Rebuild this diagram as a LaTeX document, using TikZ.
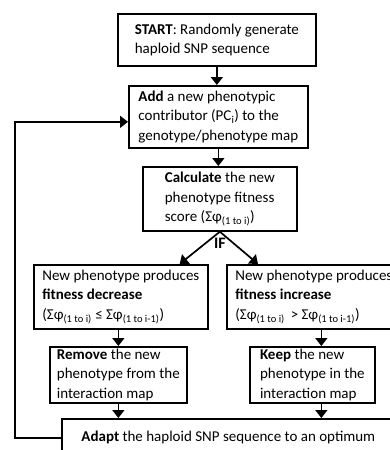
\documentclass[tikz,border=0pt]{standalone}
\usepackage{fontspec}
\setmainfont{Carlito}
\usetikzlibrary{positioning}
\usetikzlibrary{arrows.meta}

\begin{document}
\begin{tikzpicture}[x=1pt, y=-1pt, >={Triangle[width=12pt,length=8pt]},
  box/.style={draw, line width=1.7pt, anchor=north west, align=left, inner sep=2pt,
    font=\fontsize{15}{19.5}\selectfont},
  link/.style={->, line width=1.7pt}]

\useasboundingbox (0,0) rectangle (390,450);
\clip (0,0) rectangle (390,450);

\node [box, minimum width=198pt, minimum height=52pt] (start) at (117,13)
  {\textbf{START}: Randomly generate\\haploid SNP sequence};
\node [box, minimum width=179pt, minimum height=62pt] (add) at (128,85)
  {\textbf{Add} a new phenotypic\\contributor (PC\textsubscript{i}) to the\\genotype/phenotype map};
\node [box, minimum width=154pt, minimum height=64pt] (calc) at (142,166)
  {\textbf{Calculate} the new\\phenotype fitness\\score (Σφ\textsubscript{(1 to i)})};

\node [box, minimum width=174pt, minimum height=64pt] (decrease) at (33,264)
  {New phenotype produces\\\textbf{fitness decrease}\\(Σφ\textsubscript{(1 to i)} ≤ Σφ\textsubscript{(1 to i-1)})};
\node [box, minimum width=174pt, minimum height=64pt] (increase) at (226,264)
  {New phenotype produces\\\textbf{fitness increase}\\(Σφ\textsubscript{(1 to i)} \,> Σφ\textsubscript{(1 to i-1)})};

\node [box, minimum width=137pt, minimum height=55pt] (remove) at (49,346)
  {\textbf{Remove} the new\\phenotype from the\\interaction map};
\node [box, minimum width=125pt, minimum height=55pt] (keep) at (249,346)
  {\textbf{Keep} the new\\phenotype in the\\interaction map};

\node [box, minimum width=333pt, minimum height=38pt] (adapt) at (61,418)
  {\textbf{Adapt} the haploid SNP sequence to an optimum};

% main column
\draw [link] (start.south) -- (start.south |- add.north);
\draw [link] (add.south) -- (add.south |- calc.north);

% branching
\draw [link] (calc.south) -- ([xshift=-29pt]decrease.north east);
\draw [link] (calc.south) -- ([xshift=32pt]increase.north west);
\node [font=\fontsize{16}{18}\selectfont\bfseries, anchor=north, inner sep=1pt]
  (if) at ([yshift=-5pt]calc.south) {IF};

\draw [link] (decrease.south -| remove.north) -- (remove.north);
\draw [link] (remove.south) -- (remove.south |- adapt.north);
\draw [link] ([xshift=9pt]increase.south -| keep.north) -- ([xshift=9pt]keep.north);
\draw [link] ([xshift=9pt]keep.south) -- ([xshift=9pt]keep.south |- adapt.north);

% loop back
\draw [link] (adapt.west) -- ++(-46,0) |- ([yshift=-5pt]add.west);

\end{tikzpicture}
\end{document}
